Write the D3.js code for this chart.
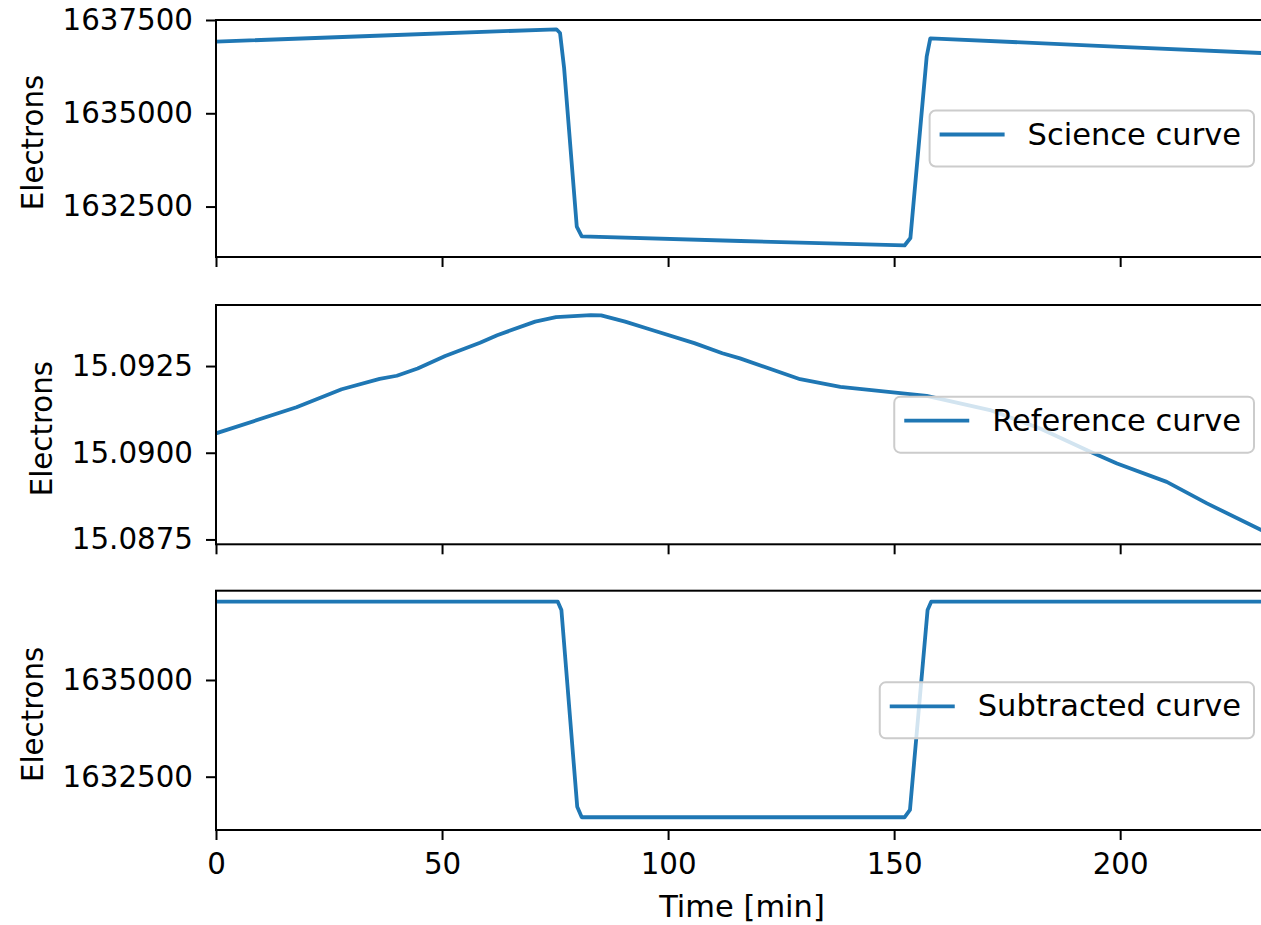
<!DOCTYPE html>
<html>
<head>
<meta charset="utf-8">
<script src="https://cdn.jsdelivr.net/npm/d3@7/dist/d3.min.js"></script>
<style>
  html, body { margin: 0; padding: 0; background: #ffffff; }
  svg { display: block; }
  text { font-family: "DejaVu Sans", sans-serif; fill: #000; }
</style>
</head>
<body>
<svg id="chart" width="1261" height="925"></svg>
<script>
// ---------------- data ----------------
const xTicks = [0, 50, 100, 150, 200];
const xLabel = "Time [min]";
const yLabel = "Electrons";

const sciTime   = [0, 37, 75.3, 76.1, 77.0, 79.8, 80.9, 116, 152.3, 153.6, 157.2, 158.0, 200, 232.7];
const sciValues = [1636919, 1637085, 1637251, 1637152, 1636214, 1631960, 1631703, 1631577, 1631457, 1631658, 1636516, 1637010, 1636780, 1636608];
const sciTicks  = [1632500, 1635000, 1637500];
const sciName   = "Science curve";

const refTime   = [0, 17.8, 27.8, 36.2, 40.0, 44.6, 50.7, 58.4, 62.2, 70.6, 75.2, 82.9, 85.2, 90.5, 95.9, 105.8, 112.0, 115.9, 129.2, 138.1, 157.2, 171.2, 182.3, 193.4, 199.3, 210.3, 219.2, 231.2, 232.7];
const refValues = [15.09056, 15.09131, 15.09183, 15.09213, 15.09222, 15.09243, 15.09279, 15.09317, 15.09339, 15.09378, 15.09391, 15.09397, 15.09396, 15.09378, 15.09356, 15.09316, 15.09287, 15.09272, 15.09212, 15.09190, 15.09164, 15.09123, 15.09070, 15.09003, 15.08969, 15.08916, 15.08854, 15.08777, 15.08767];
const refTicks  = [15.0875, 15.0900, 15.0925];
const refName   = "Reference curve";

const subTime   = [0, 75.6, 76.4, 79.9, 80.9, 152.3, 153.5, 157.4, 158.2, 232.7];
const subValues = [1637024, 1637024, 1636810, 1631725, 1631451, 1631451, 1631640, 1636810, 1637024, 1637024];
const subTicks  = [1632500, 1635000];
const subName   = "Subtracted curve";

const xDomain = [0, 232.7];

// ---------------- layout ----------------
const svg = d3.select("#chart");
const color = "#1f77b4";
const fs = 29.3;
const fsText = 30.5;
const left = 216, right = 1268;

const panels = [
  { time: sciTime, values: sciValues, ticks: sciTicks, name: sciName, fmt: d3.format("d"),
    top: 20, bottom: 257, domain: [1631148, 1637500], labelX: 43 },
  { time: refTime, values: refValues, ticks: refTicks, name: refName, fmt: d3.format(".4f"),
    top: 305, bottom: 544.3, domain: [15.08736, 15.09426], labelX: 52 },
  { time: subTime, values: subValues, ticks: subTicks, name: subName, fmt: d3.format("d"),
    top: 590.7, bottom: 830, domain: [1631122, 1637308], labelX: 43 }
];

const x = d3.scaleLinear().domain(xDomain).range([left, right]);

panels.forEach((p, i) => {
  const y = d3.scaleLinear().domain(p.domain).range([p.bottom, p.top]);
  const g = svg.append("g");

  const clipId = "clip" + i;
  svg.append("clipPath").attr("id", clipId)
    .append("rect").attr("x", left).attr("y", p.top)
    .attr("width", right - left).attr("height", p.bottom - p.top);

  const pts = p.time.map((t, k) => [t, p.values[k]]);
  const line = d3.line().x(d => x(d[0])).y(d => y(d[1]));
  g.append("path").datum(pts)
    .attr("clip-path", `url(#${clipId})`)
    .attr("d", line)
    .attr("fill", "none")
    .attr("stroke", color)
    .attr("stroke-width", 3.8)
    .attr("stroke-linejoin", "round")
    .attr("stroke-linecap", "butt");

  const yAxis = d3.axisLeft(y).tickValues(p.ticks).tickFormat(p.fmt)
    .tickSize(10).tickSizeOuter(0).tickPadding(13);
  const ya = g.append("g").attr("transform", `translate(${left},0)`).call(yAxis);
  ya.select(".domain").remove();
  ya.selectAll(".tick line").attr("stroke", "#000").attr("stroke-width", 2);
  ya.selectAll(".tick text").attr("font-size", fs).attr("font-family", "DejaVu Sans").attr("fill", "#000");

  const xAxis = d3.axisBottom(x).tickValues(xTicks).tickSize(10).tickSizeOuter(0).tickPadding(13)
    .tickFormat(i === 2 ? d3.format("d") : () => "");
  const xa = g.append("g").attr("transform", `translate(0,${p.bottom})`).call(xAxis);
  xa.select(".domain").remove();
  xa.selectAll(".tick line").attr("stroke", "#000").attr("stroke-width", 2);
  xa.selectAll(".tick text").attr("font-size", fs).attr("font-family", "DejaVu Sans").attr("fill", "#000");

  g.append("rect").attr("x", left).attr("y", p.top)
    .attr("width", right - left).attr("height", p.bottom - p.top)
    .attr("fill", "none").attr("stroke", "#000").attr("stroke-width", 2);

  const cy = (p.top + p.bottom) / 2 + 4;
  g.append("text")
    .attr("transform", `translate(${p.labelX},${cy}) rotate(-90)`)
    .attr("text-anchor", "middle")
    .attr("font-size", fs)
    .text(yLabel);

  // legend
  const lg = svg.append("g");
  const cyL = (p.top + p.bottom) / 2;
  const boxRight = 1254;
  const txt = lg.append("text").attr("font-size", fsText).attr("y", cyL + 6).text(p.name);
  const tw = txt.node().getComputedTextLength();
  const boxW = 10 + 65 + 23 + tw + 13;
  const boxL = boxRight - boxW;
  const boxH = 56;
  lg.insert("rect", "text")
    .attr("x", boxL).attr("y", cyL - boxH / 2)
    .attr("width", boxW).attr("height", boxH)
    .attr("rx", 6).attr("ry", 6)
    .attr("fill", "#ffffff").attr("fill-opacity", 0.8)
    .attr("stroke", "#cccccc").attr("stroke-width", 2);
  lg.insert("line", "text")
    .attr("x1", boxL + 10).attr("x2", boxL + 75)
    .attr("y1", cyL - 4).attr("y2", cyL - 4)
    .attr("stroke", color).attr("stroke-width", 3.8);
  txt.attr("x", boxL + 98);
});

svg.append("text")
  .attr("x", (left + right) / 2)
  .attr("y", 917)
  .attr("text-anchor", "middle")
  .attr("font-size", fsText)
  .text(xLabel);
</script>
</body>
</html>
